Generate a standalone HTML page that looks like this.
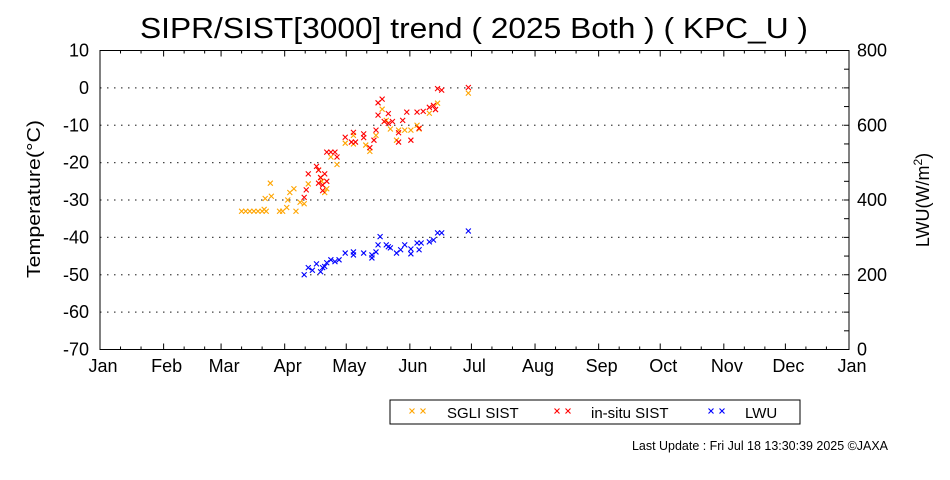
<!DOCTYPE html>
<html><head><meta charset="utf-8"><style>
html,body{margin:0;padding:0;background:#fff;width:950px;height:480px;overflow:hidden}
svg text{font-family:"Liberation Sans",Arial,sans-serif;fill:#000}
</style></head><body>
<svg id="chart" width="950" height="480" xmlns="http://www.w3.org/2000/svg">
<text x="140" y="38" font-size="29" textLength="668" lengthAdjust="spacingAndGlyphs">SIPR/SIST[3000] trend ( 2025 Both ) ( KPC_U )</text>
<g id="grid"></g>
<g id="axes"></g>
<g id="series"></g>
<text transform="translate(40,199) rotate(-90)" font-size="18" text-anchor="middle" textLength="158" lengthAdjust="spacingAndGlyphs">Temperature(°C)</text>
<text transform="translate(929,200) rotate(-90)" font-size="18" text-anchor="middle">LWU(W/m<tspan font-size="12" dy="-7">2</tspan><tspan dy="7">)</tspan></text>
<g>
<rect x="390" y="400" width="410" height="24" fill="#fff" stroke="#000" stroke-width="1"/>
<g id="legmarks"></g>
<text x="447" y="418" font-size="15">SGLI SIST</text>
<text x="591" y="418" font-size="15">in-situ SIST</text>
<text x="745" y="418" font-size="15">LWU</text>
</g>
<text x="632" y="450" font-size="13" textLength="256" lengthAdjust="spacingAndGlyphs">Last Update : Fri Jul 18 13:30:39 2025  ©JAXA</text>
</svg>
<script>
const monthLabels=["Jan","Feb","Mar","Apr","May","Jun","Jul","Aug","Sep","Oct","Nov","Dec","Jan"];
const monthStarts=[1,32,60,91,121,152,182,213,244,274,305,335,366];
const tempTicks=[10,0,-10,-20,-30,-40,-50,-60,-70];
const lwuTicks=[800,600,400,200,0];
const sgliDay=[70,72,74,76,78,80,82,81,84,81.5,84.5,88.5,90,92,96.5,92.5,93.5,95.5,98.5,100.5,102.5,107.5,109,110.5,111.5,108.5,113.5,116.5,120.5,124.5,124.5,130.5,132.5,135.5,138.5,140.5,142.5,145.5,146.5,149.5,152.5,155.5,156.5,161.5,165.5,180.5];
const sgliVal=[-33,-33,-33,-33,-33,-33,-33,-32.5,-25.5,-29.6,-29,-33,-33,-32,-33,-30,-28,-27,-30.6,-31,-25.7,-22,-25,-28,-27,-24,-18.5,-20.5,-14.8,-15,-12.7,-15.3,-17,-12.7,-5.7,-8.7,-11,-14,-11.3,-11.3,-11.3,-10,-11,-6.8,-4.1,-1.4];
const insituDay=[138.5,136.5,136.5,141.5,139.5,141.5,143.5,146.5,146.5,148.5,150.5,152.5,156.5,155.5,158.5,161.5,163.5,164.5,165.5,167.5,180.5,120.5,124.5,123.5,125.5,129.5,129.5,134.5,135.5,132.5,111.5,113.5,115.5,116.5,106.5,107.5,102.5,101.5,100.5,108.5,110.5,109.5,111.5,107.5,109.5];
const insituVal=[-3,-4,-7.3,-6.9,-9,-9.5,-9,-12,-14.5,-8.7,-6.5,-14,-10.8,-6.5,-6.3,-5.2,-4.7,-5.8,-0.2,-0.6,0.1,-13.2,-11.9,-14.5,-14.5,-12.3,-13.3,-14,-11.3,-16,-17.2,-17.2,-17.2,-18.5,-21,-22,-23,-27.3,-29.3,-24,-23,-26,-25,-25.5,-27.5];
const lwuDay=[100.5,102.5,106.5,108.5,109.5,111.5,113.5,115.5,120.5,124.5,124.5,129.5,133.5,133.5,135.5,136.5,137.5,140.5,141.5,142.5,145.5,147.5,149.5,152.5,152.5,155.5,156.5,157.5,161.5,163.5,165.5,167.5,180.5,104.5,110.5,117.5];
const lwuVal=[200,219,229,208,219,232,240,235,258,261,253,258,253,245,261,280,302,280,275,272,258,267,280,269,256,285,267,285,288,293,312,312,317,212,222,240];

const L=100,R=849,T=50.5,B=349.5;
const xS=d=>L+(d-1)*(R-L)/365;
const yT=v=>T+(10-v)*(B-T)/80;
const yW=v=>B-v*(B-T)/800;
const NS="http://www.w3.org/2000/svg";
function mk(tag,attrs,parent){const e=document.createElementNS(NS,tag);for(const k in attrs)e.setAttribute(k,attrs[k]);parent.appendChild(e);return e;}
const grid=document.getElementById('grid'),axes=document.getElementById('axes'),series=document.getElementById('series');
tempTicks.forEach(v=>{
  const y=yT(v);
  if(v<10&&v>-70){const g=mk('line',{x1:L,x2:R,y1:y,y2:y,stroke:'#444','stroke-width':1.2,'stroke-dasharray':'1.5,5.5'},grid);
  
  }
  const t=mk('text',{x:89,y:y+6,'font-size':18,'text-anchor':'end'},axes);t.textContent=v;
  
  
});
lwuTicks.forEach(v=>{
  const y=yW(v);
  const t=mk('text',{x:857,y:y+6,'font-size':18},axes);t.textContent=v;
  
  
});
for(let v=50;v<800;v+=50){const y=yW(v);mk('line',{x1:R-5,x2:R,y1:y,y2:y,stroke:'#000'},axes);}
mk('rect',{x:L,y:T,width:R-L,height:B-T,fill:'none',stroke:'#000','stroke-width':1},axes);
monthStarts.forEach((d,i)=>{
  const x=xS(d);
  mk('line',{x1:x,x2:x,y1:B,y2:B-6,stroke:'#000'},axes);
  mk('line',{x1:x,x2:x,y1:T,y2:T+6,stroke:'#000'},axes);
  if(i<12){[10,20].forEach(o=>{const xm=xS(d+o);mk('line',{x1:xm,x2:xm,y1:B,y2:B-3,stroke:'#000'},axes);mk('line',{x1:xm,x2:xm,y1:T,y2:T+3,stroke:'#000'},axes);});}
  const t=mk('text',{x:x+3,y:372,'font-size':18,'text-anchor':'middle'},axes);t.textContent=monthLabels[i];
  
  
});
function cross(x,y,c,p){const s=2.5;mk('path',{d:`M${x-s},${y-s}L${x+s},${y+s}M${x-s},${y+s}L${x+s},${y-s}`,stroke:c,'stroke-width':1.1,fill:'none'},p);}
function plot(days,vals,ys,c,name){
  const g=mk('g',{},series);
  
  
  days.forEach((d,i)=>cross(xS(d),ys(vals[i]),c,g));
}
plot(sgliDay,sgliVal,yT,'#ffa500','sgli-sist-points');
plot(insituDay,insituVal,yT,'#ff0000','insitu-sist-points');
plot(lwuDay,lwuVal,yW,'#0000ff','lwu-points');
const lm=document.getElementById('legmarks');
[[412,'#ffa500'],[423,'#ffa500'],[557,'#ff0000'],[568,'#ff0000'],[711,'#0000ff'],[722,'#0000ff']].forEach(a=>cross(a[0],411,a[1],lm));
</script>
</body></html>
